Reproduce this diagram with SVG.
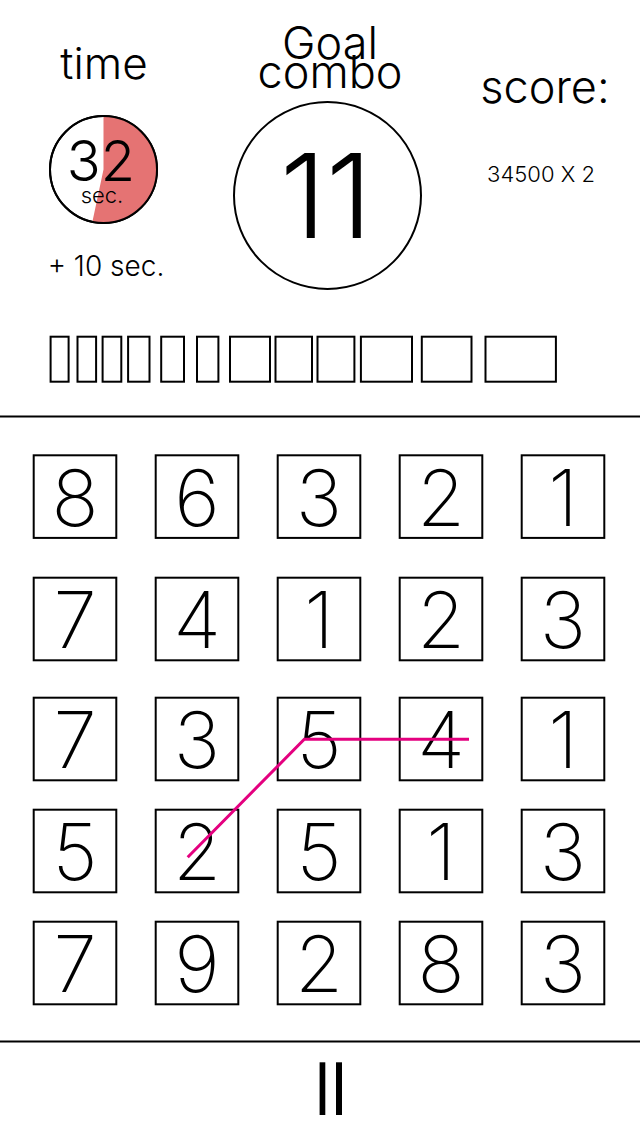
<svg xmlns="http://www.w3.org/2000/svg" width="640" height="1136" viewBox="0 0 640 1136">
<style>
.t{font-family:Inter,"Liberation Sans","DejaVu Sans",sans-serif;font-weight:300;fill:#000;text-anchor:middle}
.box{fill:#fff;stroke:#000;stroke-width:2}
.tofu{fill:none;stroke:#000;stroke-width:2}
.rule{stroke:#000;stroke-width:2}
.d{font-size:78px;font-weight:150}
</style>
<rect width="640" height="1136" fill="#fff"/>
<g id="header">
  <g id="time">
    <text class="t" x="104" y="79" font-size="44">time</text>
    <circle cx="103.5" cy="169.5" r="53.5" fill="#fff" stroke="#000" stroke-width="2"/>
    <path d="M103.5,169.5 L103.5,116 A53.5,53.5 0 1,1 92.4,221.8 Z" fill="#e57373"/>
    <circle cx="103.5" cy="169.5" r="53.5" fill="none" stroke="#000" stroke-width="2"/>
    <text class="t" x="101" y="181" font-size="56" font-weight="200">32</text>
    <text class="t" x="102" y="203" font-size="22">sec.</text>
    <text class="t" x="106" y="276" font-size="28">+ 10 sec.</text>
  </g>
  <g id="goal">
    <text class="t" x="330" y="59" font-size="45">Goal</text>
    <text class="t" x="330" y="88" font-size="45">combo</text>
    <circle cx="327.5" cy="195.5" r="93.5" fill="#fff" stroke="#000" stroke-width="2"/>
    <text class="t" x="326" y="238" font-size="117" font-weight="400">11</text>
  </g>
  <g id="score">
    <text class="t" x="545" y="103" font-size="45">score:</text>
    <text class="t" x="541" y="182" font-size="22">34500 X 2</text>
  </g>
  <g id="slots">
    <rect class="tofu" x="50.6" y="336.7" width="18" height="45"/>
    <rect class="tofu" x="77.5" y="336.7" width="18.6" height="45"/>
    <rect class="tofu" x="102.6" y="336.7" width="18.7" height="45"/>
    <rect class="tofu" x="128.1" y="336.7" width="21.4" height="45"/>
    <rect class="tofu" x="161.2" y="336.7" width="22.8" height="45"/>
    <rect class="tofu" x="197" y="336.7" width="21.4" height="45"/>
    <rect class="tofu" x="230" y="336.7" width="40" height="45"/>
    <rect class="tofu" x="275.5" y="336.7" width="36.5" height="45"/>
    <rect class="tofu" x="317.5" y="336.7" width="36.9" height="45"/>
    <rect class="tofu" x="360.9" y="336.7" width="51.1" height="45"/>
    <rect class="tofu" x="421.8" y="336.7" width="49.7" height="45"/>
    <rect class="tofu" x="485.5" y="336.7" width="70.4" height="45"/>
  </g>
</g>
<line class="rule" x1="0" y1="416.5" x2="640" y2="416.5"/>
<g id="grid">
  <g id="r1">
    <rect class="box" x="33.7" y="455.3" width="82.6" height="82.6"/><text class="t d" x="75" y="526">8</text>
    <rect class="box" x="155.7" y="455.3" width="82.6" height="82.6"/><text class="t d" x="197" y="526">6</text>
    <rect class="box" x="277.7" y="455.3" width="82.6" height="82.6"/><text class="t d" x="319" y="526">3</text>
    <rect class="box" x="399.7" y="455.3" width="82.6" height="82.6"/><text class="t d" x="441" y="526">2</text>
    <rect class="box" x="521.7" y="455.3" width="82.6" height="82.6"/><text class="t d" x="563" y="526">1</text>
  </g>
  <g id="r2">
    <rect class="box" x="33.7" y="577.7" width="82.6" height="82.6"/><text class="t d" x="75" y="648">7</text>
    <rect class="box" x="155.7" y="577.7" width="82.6" height="82.6"/><text class="t d" x="197" y="648">4</text>
    <rect class="box" x="277.7" y="577.7" width="82.6" height="82.6"/><text class="t d" x="319" y="648">1</text>
    <rect class="box" x="399.7" y="577.7" width="82.6" height="82.6"/><text class="t d" x="441" y="648">2</text>
    <rect class="box" x="521.7" y="577.7" width="82.6" height="82.6"/><text class="t d" x="563" y="648">3</text>
  </g>
  <g id="r3">
    <rect class="box" x="33.7" y="697.7" width="82.6" height="82.6"/><text class="t d" x="75" y="768">7</text>
    <rect class="box" x="155.7" y="697.7" width="82.6" height="82.6"/><text class="t d" x="197" y="768">3</text>
    <rect class="box" x="277.7" y="697.7" width="82.6" height="82.6"/><text class="t d" x="319" y="768">5</text>
    <rect class="box" x="399.7" y="697.7" width="82.6" height="82.6"/><text class="t d" x="441" y="768">4</text>
    <rect class="box" x="521.7" y="697.7" width="82.6" height="82.6"/><text class="t d" x="563" y="768">1</text>
  </g>
  <g id="r4">
    <rect class="box" x="33.7" y="809.7" width="82.6" height="82.6"/><text class="t d" x="75" y="880">5</text>
    <rect class="box" x="155.7" y="809.7" width="82.6" height="82.6"/><text class="t d" x="197" y="880">2</text>
    <rect class="box" x="277.7" y="809.7" width="82.6" height="82.6"/><text class="t d" x="319" y="880">5</text>
    <rect class="box" x="399.7" y="809.7" width="82.6" height="82.6"/><text class="t d" x="441" y="880">1</text>
    <rect class="box" x="521.7" y="809.7" width="82.6" height="82.6"/><text class="t d" x="563" y="880">3</text>
  </g>
  <g id="r5">
    <rect class="box" x="33.7" y="921.7" width="82.6" height="82.6"/><text class="t d" x="75" y="992">7</text>
    <rect class="box" x="155.7" y="921.7" width="82.6" height="82.6"/><text class="t d" x="197" y="992">9</text>
    <rect class="box" x="277.7" y="921.7" width="82.6" height="82.6"/><text class="t d" x="319" y="992">2</text>
    <rect class="box" x="399.7" y="921.7" width="82.6" height="82.6"/><text class="t d" x="441" y="992">8</text>
    <rect class="box" x="521.7" y="921.7" width="82.6" height="82.6"/><text class="t d" x="563" y="992">3</text>
  </g>
</g>
<g id="connectors">
  <polyline points="187.7,857.3 304.3,739.3 469,739.3" fill="none" stroke="#e4007f" stroke-width="3"/>
</g>
<line class="rule" x1="0" y1="1041.5" x2="640" y2="1041.5"/>
<g id="pause">
  <rect x="319.6" y="1062.3" width="5.7" height="52.7" fill="#000"/>
  <rect x="336" y="1062.3" width="6" height="52.7" fill="#000"/>
</g>
</svg>
